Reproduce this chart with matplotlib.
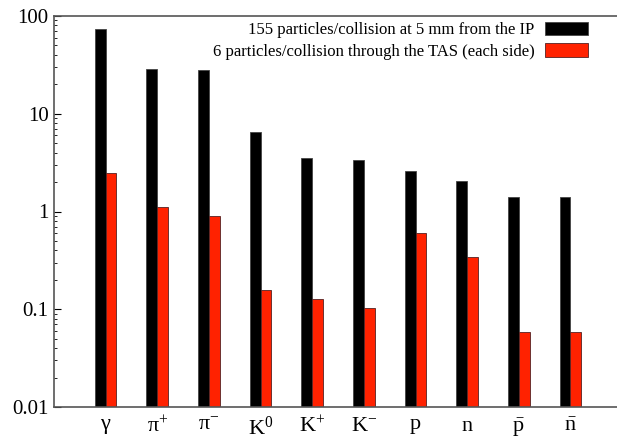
import matplotlib
matplotlib.use("Agg")
import matplotlib.pyplot as plt
from matplotlib.ticker import LogLocator, FixedFormatter, NullFormatter

particles = [r"$\mathrm{\gamma}$", r"$\mathrm{\pi}^{+}$", r"$\mathrm{\pi}^{-}$",
             r"$\mathrm{K}^{0}$", r"$\mathrm{K}^{+}$", r"$\mathrm{K}^{-}$",
             r"$\mathrm{p}$", r"$\mathrm{n}$",
             r"$\bar{\mathrm{p}}$", r"$\bar{\mathrm{n}}$"]
at_ip = [73.6, 28.7, 28.0, 6.5, 3.5, 3.4, 2.6, 2.05, 1.42, 1.42]
through_tas = [2.45, 1.11, 0.89, 0.156, 0.127, 0.103, 0.60, 0.343, 0.059, 0.059]

label_ip = "155 particles/collision at 5 mm from the IP"
label_tas = "6 particles/collision through the TAS (each side)"

plt.rcParams["font.family"] = ["Liberation Serif", "DejaVu Serif"]
plt.rcParams["mathtext.fontset"] = "custom"
plt.rcParams["mathtext.rm"] = "Liberation Serif"
plt.rcParams["mathtext.it"] = "Liberation Serif"

fig = plt.figure(figsize=(6.17, 4.41), dpi=100)
ax = fig.add_axes([54 / 617, 34 / 441, 0.95, 391 / 441])

x = list(range(1, len(particles) + 1))
w = 0.21
ax.bar([i - w / 2 for i in x], at_ip, width=w, color="black", edgecolor="#444444",
       linewidth=0.6, label=label_ip)
ax.bar([i + w / 2 for i in x], through_tas, width=w, color="#ff2200", edgecolor="#552222",
       linewidth=0.6, label=label_tas)

ax.set_yscale("log")
ax.set_ylim(0.01, 100)
ax.set_xlim(0, 11.35)
ax.set_yticks([0.01, 0.1, 1, 10, 100])
ax.yaxis.set_major_formatter(FixedFormatter(["0.01", "0.1", "1", "10", "100"]))
ax.yaxis.set_minor_locator(LogLocator(base=10, subs=range(2, 10)))
ax.yaxis.set_minor_formatter(NullFormatter())
ax.tick_params(axis="y", which="major", direction="in", length=5, labelsize=15, pad=4)
ax.tick_params(axis="y", which="minor", direction="in", length=2.5)
ax.set_xticks(x)
ax.set_xticklabels(particles, fontsize=16)
ax.tick_params(axis="x", length=0, pad=7)

for s in ax.spines.values():
    s.set_color("#555555")
    s.set_linewidth(1.2)
ax.spines["right"].set_visible(False)

leg = ax.legend(loc="upper right", bbox_to_anchor=(588 / 617, 1 - 22 / 441),
                bbox_transform=fig.transFigure, frameon=False, markerfirst=False,
                fontsize=12, handlelength=2.6, handleheight=0.85, borderpad=0,
                borderaxespad=0, labelspacing=0.3, handletextpad=0.6)

fig.savefig("out.png", dpi=100)
